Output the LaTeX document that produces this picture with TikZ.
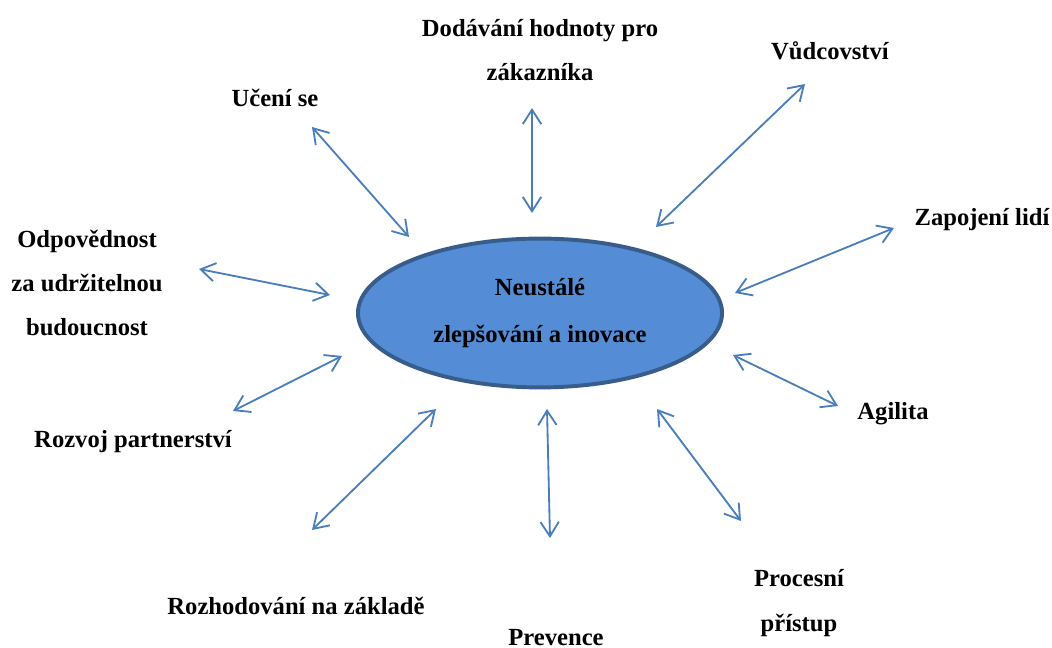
\documentclass[tikz,border=0pt]{standalone}
\usepackage{fontspec}
\setmainfont{Liberation Serif}
\usetikzlibrary{arrows.meta,shapes.geometric}
\definecolor{arrowblue}{RGB}{74,126,187}
\definecolor{corefill}{RGB}{84,141,213}
\definecolor{coreline}{RGB}{56,93,138}
\begin{document}
\begin{tikzpicture}[x=0.025cm,y=-0.025cm,
  every node/.style={font=\bfseries\fontsize{17.5}{31.5}\selectfont,align=center,inner sep=0pt},
  link/.style={draw=arrowblue,line width=1.3pt,
    {Straight Barb[length=3.6mm,width=4.6mm]}-{Straight Barb[length=3.6mm,width=4.6mm]}}]
\useasboundingbox (0,0) rectangle (1052,648);
\node[ellipse,draw=coreline,fill=corefill,line width=2.8pt,minimum width=9.1cm,minimum height=3.72cm,
  font=\bfseries\fontsize{17.5}{33.5}\selectfont] (core) at (540,313) {Neustálé\\zlepšování a inovace};
\node (dodavani) at (540,50) {Dodávání hodnoty pro\\zákazníka};
\node (vudcovstvi) at (830,51) {Vůdcovství};
\node (uceni) at (275,98) {Učení se};
\node (zapojeni) at (982,220) {Zapojení lidí};
\node (odpovednost) at (87,283) {Odpovědnost\\za udržitelnou\\budoucnost};
\node (rozvoj) at (133,442) {Rozvoj partnerství};
\node (agilita) at (893,414) {Agilita};
\node (rozhodovani) at (296,606) {Rozhodování na základě};
\node (prevence) at (556,638) {Prevence};
\node (procesni) at (799,603) {Procesní\\přístup};
\coordinate (dodavani-a) at (532,108);
\coordinate (dodavani-b) at (532,213);
\coordinate (vudcovstvi-a) at (805,84);
\coordinate (vudcovstvi-b) at (656,227);
\coordinate (uceni-a) at (312,127);
\coordinate (uceni-b) at (409,237);
\coordinate (zapojeni-a) at (894,228);
\coordinate (zapojeni-b) at (735,293);
\coordinate (odpovednost-a) at (199,269);
\coordinate (odpovednost-b) at (330,295);
\coordinate (rozvoj-a) at (233,411);
\coordinate (rozvoj-b) at (342,356);
\coordinate (agilita-a) at (733,355);
\coordinate (agilita-b) at (838,406);
\coordinate (rozhodovani-a) at (312,530);
\coordinate (rozhodovani-b) at (436,409);
\coordinate (prevence-a) at (547,409);
\coordinate (prevence-b) at (550,538);
\coordinate (procesni-a) at (657,409);
\coordinate (procesni-b) at (741,521);
\draw[link] (dodavani-a) -- (dodavani-b);
\draw[link] (vudcovstvi-a) -- (vudcovstvi-b);
\draw[link] (uceni-a) -- (uceni-b);
\draw[link] (zapojeni-a) -- (zapojeni-b);
\draw[link] (odpovednost-a) -- (odpovednost-b);
\draw[link] (rozvoj-a) -- (rozvoj-b);
\draw[link] (agilita-a) -- (agilita-b);
\draw[link] (rozhodovani-a) -- (rozhodovani-b);
\draw[link] (prevence-a) -- (prevence-b);
\draw[link] (procesni-a) -- (procesni-b);
\end{tikzpicture}
\end{document}
